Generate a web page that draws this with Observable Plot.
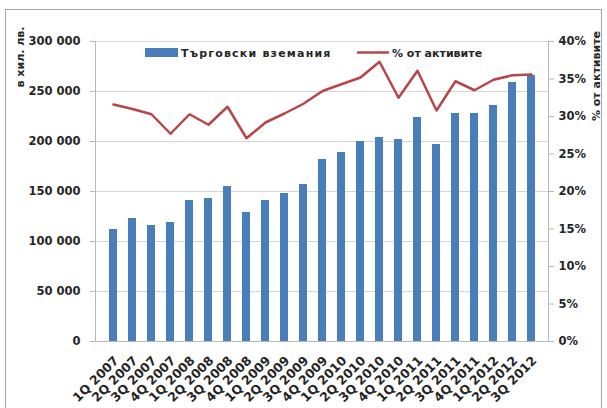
<!DOCTYPE html>
<html>
<head>
<meta charset="utf-8">
<script src="https://cdn.jsdelivr.net/npm/d3@7"></script>
<script src="https://cdn.jsdelivr.net/npm/@observablehq/plot@0.6"></script>
<style>
  body { margin: 0; background: #fff; }
  #chart { width: 607px; height: 408px; }
</style>
</head>
<body>
<div id="chart"></div>
<script>
// Quarters on the category axis
const quarters = [
  "1Q 2007", "2Q 2007", "3Q 2007", "4Q 2007",
  "1Q 2008", "2Q 2008", "3Q 2008", "4Q 2008",
  "1Q 2009", "2Q 2009", "3Q 2009", "4Q 2009",
  "1Q 2010", "2Q 2010", "3Q 2010", "4Q 2010",
  "1Q 2011", "2Q 2011", "3Q 2011", "4Q 2011",
  "1Q 2012", "2Q 2012", "3Q 2012"
];

// Trade receivables, thousand BGN (left axis)
const receivables = [
  112000, 123000, 116000, 119000,
  141000, 143000, 155000, 129000,
  141000, 148000, 157000, 182000,
  189000, 200000, 204000, 202000,
  224000, 197000, 228000, 228000,
  236000, 259000, 266000
];

// Share of total assets, % (right axis)
const shareOfAssets = [
  31.6, 31.0, 30.3, 27.7,
  30.3, 28.9, 31.3, 27.1,
  29.2, 30.4, 31.7, 33.4,
  34.3, 35.2, 37.3, 32.5,
  36.1, 30.8, 34.7, 33.5,
  34.9, 35.5, 35.6
];

const leftTicks = [0, 50000, 100000, 150000, 200000, 250000, 300000];
const rightTicks = [0, 5, 10, 15, 20, 25, 30, 35, 40];

const seriesNames = ["Търговски вземания", "% от активите"];
const leftTitle = "в хил. лв.";
const rightTitle = "% от активите";

const barColor = "#4a7ebb";
const lineColor = "#b8454a";
const axisColor = "#b8b8b8";
const textColor = "#262626";

// Both series share one y scale: percentages are stretched so 40% meets 300 000
const yMax = 300000;
const pctMax = 40;
const k = yMax / pctMax;

const fmt = d3.formatLocale({ thousands: "\u00a0", grouping: [3], decimal: "," }).format(",");

const rows = quarters.map((q, i) => ({ q, v: receivables[i], p: shareOfAssets[i] }));

const plot = Plot.plot({
  width: 607,
  height: 408,
  marginLeft: 95,
  marginRight: 59,
  marginTop: 41,
  marginBottom: 67,
  style: { fontFamily: "DejaVu Sans", fontSize: "11.5px", fontWeight: "bold", color: textColor, background: "#fff" },
  x: { type: "band", domain: quarters, padding: 0.58 },
  y: { domain: [0, yMax] },
  marks: [
    Plot.gridY(leftTicks.slice(1), { stroke: "#d4d4d4", strokeOpacity: 1 }),
    Plot.barY(rows, { x: "q", y: "v", fill: barColor }),
    Plot.lineY(rows, { x: "q", y: d => d.p * k, stroke: lineColor, strokeWidth: 2.5 }),
    Plot.axisY({ ticks: leftTicks, tickFormat: fmt, tickSize: 5, tickPadding: 10, stroke: axisColor, fill: textColor, label: null }),
    Plot.axisY({ anchor: "right", ticks: rightTicks.map(t => t * k), tickFormat: d => Math.round(d / k) + "%", tickSize: 5, tickPadding: 5, stroke: axisColor, fill: textColor, label: null }),
    Plot.axisX({ tickRotate: -45, tickSize: 0, tickPadding: 17, dx: 3, fontSize: 12.5, fill: textColor, label: null }),
    Plot.frame({ anchor: "left", stroke: axisColor }),
    Plot.frame({ anchor: "right", stroke: axisColor }),
    Plot.ruleY([0], { stroke: axisColor })
  ]
});

document.getElementById("chart").appendChild(plot);

const svg = d3.select(plot);

// outer chart border
svg.append("rect")
  .attr("x", 5.5).attr("y", 9.5).attr("width", 596).attr("height", 420)
  .attr("fill", "none").attr("stroke", "#a6a6a6");

// legend
const lg = svg.append("g")
  .attr("font-family", "DejaVu Sans").attr("font-size", 11).attr("font-weight", "bold")
  .attr("fill", textColor).attr("text-anchor", "start");
lg.append("rect").attr("x", 145).attr("y", 48).attr("width", 33).attr("height", 9).attr("fill", barColor);
lg.append("text").attr("x", 181).attr("y", 57).attr("letter-spacing", 1.2).text(seriesNames[0]);
lg.append("line").attr("x1", 357).attr("x2", 389).attr("y1", 52.5).attr("y2", 52.5).attr("stroke", lineColor).attr("stroke-width", 2.5);
lg.append("text").attr("x", 392).attr("y", 57).text(seriesNames[1]);

// axis titles
const titles = svg.append("g")
  .attr("font-family", "DejaVu Sans").attr("font-size", 11).attr("font-weight", "bold")
  .attr("fill", textColor).attr("text-anchor", "middle");
titles.append("text").attr("transform", "translate(24,57) rotate(-90)").text(leftTitle);
titles.append("text").attr("transform", "translate(600,76) rotate(-90)").text(rightTitle);
</script>
</body>
</html>
